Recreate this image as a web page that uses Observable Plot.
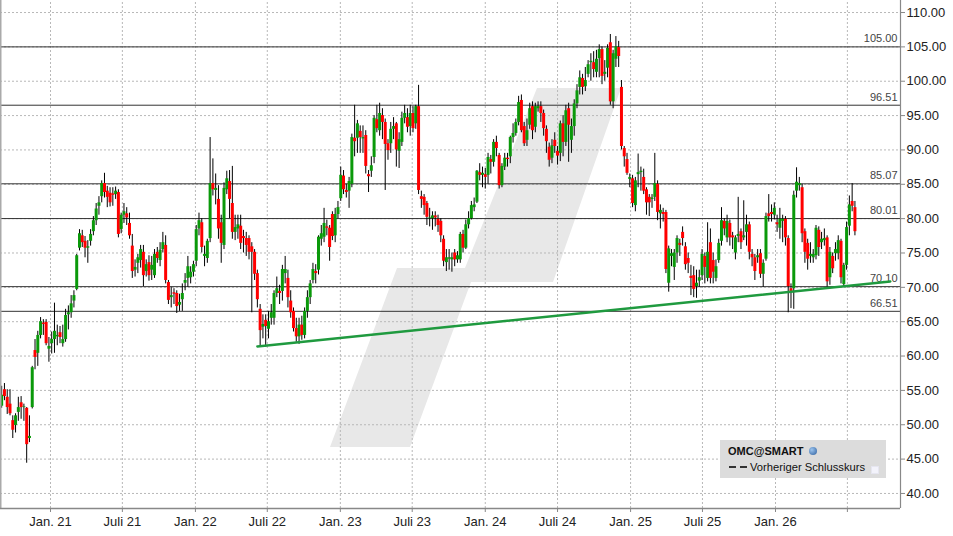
<!DOCTYPE html>
<html>
<head>
<meta charset="utf-8">
<script src="https://cdn.jsdelivr.net/npm/d3@7"></script>
<script src="https://cdn.jsdelivr.net/npm/@observablehq/plot@0.6"></script>
<style>
  html, body { margin: 0; padding: 0; background: #fff; }
  #wrap { position: relative; width: 953px; height: 536px; overflow: hidden; font-family: "Liberation Sans", Arial, sans-serif; }
  #wm { position: absolute; left: 0; top: 0; width: 953px; height: 536px; background: #e8e8e8;
        clip-path: polygon(330px 447px, 397px 268px, 465px 268px, 537px 88px, 621px 88px, 553px 282px, 471px 282px, 410px 447px); }
  #chart { position: absolute; left: 0; top: 0; }
  #legend { position: absolute; left: 720px; top: 440px; width: 166px; height: 38px; background: #dcdcdc; font-size: 11px; color: #111; }
  #legend .l1 { position: absolute; left: 8px; top: 5px; font-weight: bold; font-size: 11px; }
  #legend .globe { position: absolute; left: 89px; top: 7px; width: 8px; height: 8px; border-radius: 50%; background: radial-gradient(circle at 35% 35%, #9cc4ee, #2d5f9e); }
  #legend .dash { position: absolute; left: 9px; top: 26px; width: 19px; height: 2px; }
  #legend .l2 { position: absolute; left: 30px; top: 21px; font-size: 11.2px; }
  #legend .box { position: absolute; left: 151px; top: 26px; width: 6px; height: 6px; background: #f3f3fb; border: 1px solid #e6e6f0; }
</style>
</head>
<body>
<div id="wrap">
  <div id="wm"></div>
  <div id="chart"></div>
  <div id="legend">
    <div class="l1">OMC@SMART</div><div class="globe"></div>
    <svg class="dash" width="19" height="2"><line x1="0" y1="1" x2="19" y2="1" stroke="#333" stroke-width="2" stroke-dasharray="7,4"/></svg>
    <div class="l2">Vorheriger Schlusskurs</div><div class="box"></div>
  </div>
</div>
<script>
// Weekly candles, first week starting 2020-08-31
const firstWeek = "2020-08-31";
const opens = [52.7,55.1,54.0,53.0,50.6,49.9,51.8,53.2,52.5,52.4,48.0,52.5,60.8,60.4,63.0,64.8,64.9,61.0,61.8,62.4,62.8,63.4,61.8,62.4,66.0,66.3,68.0,69.7,75.7,77.5,76.7,75.7,76.7,78.1,79.7,81.8,83.2,85.1,84.0,83.7,83.6,83.5,83.8,78.4,80.5,80.7,79.3,76.0,72.5,73.5,73.9,75.1,72.3,73.6,72.5,71.7,75.1,73.9,75.5,76.1,70.7,68.5,69.2,69.1,67.4,68.2,70.6,71.3,71.4,72.2,73.8,78.5,79.4,74.5,74.2,77.1,85.1,84.1,82.8,79.4,76.1,84.2,85.4,82.2,78.0,78.5,78.9,77.4,77.1,77.1,75.9,75.1,72.0,66.8,64.2,65.2,63.9,65.5,65.5,69.1,69.4,69.4,72.0,71.3,68.0,66.5,64.0,62.8,64.5,63.0,66.5,68.5,71.0,72.3,72.5,77.0,77.3,78.8,78.6,80.6,77.5,80.6,82.9,86.2,84.1,84.0,85.0,91.7,91.7,92.7,91.6,92.1,86.4,86.9,88.9,94.4,92.8,95.0,94.0,90.9,90.9,93.0,93.8,89.8,91.1,94.6,94.7,93.4,95.3,93.8,96.3,83.2,83.1,82.2,80.0,80.0,80.4,79.9,79.6,77.0,73.6,74.1,74.0,75.0,74.0,74.0,77.7,75.7,79.1,80.0,81.6,82.4,86.7,86.3,86.4,86.3,88.6,88.2,91.1,89.2,84.8,87.5,88.8,89.0,91.8,92.4,94.0,97.2,93.4,91.4,93.6,96.3,93.3,96.0,96.3,95.3,93.0,90.4,88.8,91.4,89.8,89.5,93.8,91.1,96.0,91.4,93.4,96.7,99.1,100.4,99.2,101.0,102.7,102.7,101.3,103.3,104.6,101.0,101.9,105.6,97.0,103.2,104.9,99.1,90.2,88.6,85.7,85.8,81.9,86.4,86.7,86.0,84.2,83.1,82.8,83.1,85.0,80.7,80.9,80.9,70.6,74.5,72.9,75.0,76.4,78.0,75.9,74.2,71.6,71.7,70.1,70.9,71.7,74.5,71.3,76.5,73.9,71.3,73.9,76.7,79.6,77.2,79.3,77.5,75.0,77.4,78.1,77.2,78.0,79.1,74.8,74.3,74.3,74.9,71.9,74.1,80.7,80.9,80.5,79.4,78.6,79.6,79.9,77.1,69.8,69.8,84.0,84.8,84.5,78.1,76.4,74.5,74.3,74.6,78.3,76.5,76.8,77.2,71.4,74.5,74.9,74.9,76.7,70.4,73.2,78.9,82.5,81.6];
const highs = [55.6,56.0,55.1,55.1,51.3,51.6,54.0,54.1,53.0,52.5,51.3,58.5,62.4,63.6,65.6,65.3,65.3,62.7,63.5,67.7,64.5,64.3,64.5,66.8,67.3,68.8,69.5,74.8,78.4,78.3,77.4,76.8,78.4,80.3,82.2,83.2,85.5,86.6,84.7,84.5,84.5,84.6,84.2,80.8,82.2,81.6,80.8,77.7,74.0,74.8,76.1,76.1,74.0,74.6,74.5,75.5,75.8,76.5,78.0,77.5,71.0,70.0,69.8,69.5,69.0,70.5,72.0,74.5,73.0,73.8,79.0,80.8,80.0,76.0,77.0,91.8,88.7,86.5,84.8,80.5,85.2,86.9,87.0,87.6,80.5,80.5,80.5,78.3,78.0,77.5,76.5,75.5,72.5,67.5,66.0,66.0,66.5,67.5,69.5,71.5,70.3,73.2,74.5,72.5,69.5,67.0,65.5,65.5,65.8,67.0,69.5,71.0,73.5,73.3,77.5,79.0,81.5,79.8,79.0,81.0,81.5,82.5,87.5,87.0,85.0,86.0,92.3,96.5,94.3,93.5,93.5,92.8,87.0,89.0,95.0,96.5,96.8,96.0,94.5,91.5,94.0,94.7,94.0,92.5,95.5,96.5,96.0,96.5,96.3,96.5,99.4,84.0,83.5,82.5,81.5,81.0,81.0,80.5,80.0,77.5,75.5,75.5,75.0,75.5,75.2,78.0,78.3,79.8,81.0,82.5,83.0,87.0,88.0,87.5,87.3,89.5,89.2,91.5,92.0,89.5,88.0,89.5,89.5,92.0,93.8,94.5,97.8,98.0,94.0,94.5,96.8,97.0,96.8,97.0,97.0,95.8,93.5,91.0,91.5,92.5,90.5,94.2,95.0,96.5,96.8,94.5,97.3,99.5,101.5,101.0,102.0,103.0,104.0,104.3,104.5,105.3,105.0,103.0,105.3,106.8,104.5,106.5,105.8,100.1,90.5,89.5,86.5,86.3,86.0,89.4,87.5,87.2,84.5,83.5,83.5,89.5,85.5,82.0,81.5,81.2,76.0,75.5,75.5,77.5,77.0,78.8,76.5,75.0,73.2,73.0,72.5,72.5,75.5,75.0,79.4,78.5,75.0,74.0,77.0,81.6,80.0,80.5,79.8,78.0,77.5,83.1,78.5,82.6,80.5,79.5,75.5,74.8,75.5,75.5,74.0,80.8,83.5,82.0,82.3,80.5,81.5,80.5,80.3,77.5,70.5,84.0,87.4,86.0,85.0,78.5,77.0,76.5,75.5,79.0,78.8,78.0,78.5,77.5,75.8,75.0,76.5,77.5,77.0,73.5,79.5,83.3,85.1,82.5];
const lows = [52.4,53.5,51.5,51.3,48.0,48.8,50.5,50.8,50.5,44.4,47.4,52.3,58.0,58.5,62.5,63.0,61.5,59.1,60.3,60.4,61.5,61.8,61.3,62.0,63.8,65.5,67.0,69.5,75.3,75.8,74.3,73.5,76.0,77.5,79.0,80.5,82.3,83.0,81.6,81.7,81.8,82.8,77.2,77.8,79.3,79.0,77.0,71.3,71.5,72.0,72.8,70.1,71.5,70.9,71.0,71.3,73.5,73.0,75.0,70.5,67.5,67.0,67.5,66.2,66.5,66.5,69.5,70.0,70.5,71.5,73.0,77.5,75.0,73.0,73.5,76.5,83.3,82.0,77.0,73.5,75.5,83.5,80.0,77.0,76.8,77.0,75.5,75.0,74.5,74.0,66.3,71.0,67.0,61.5,62.5,61.3,62.5,64.5,64.5,68.5,67.5,68.0,70.5,67.0,65.5,63.5,62.0,61.7,62.3,62.5,65.5,67.5,70.5,70.5,71.8,76.0,76.5,77.5,73.8,76.8,76.5,80.0,82.5,83.5,83.0,81.5,84.5,89.0,89.5,89.5,89.5,86.5,83.8,86.0,88.0,92.5,92.0,91.5,84.1,88.5,89.5,91.5,87.5,87.3,90.5,93.8,92.5,92.0,92.5,93.0,83.5,81.5,80.5,79.0,78.8,78.3,78.8,78.0,76.5,73.0,72.3,72.5,72.2,73.0,73.5,73.5,75.0,75.5,78.5,79.8,81.0,82.2,85.5,84.5,84.3,85.0,86.5,87.5,89.0,84.3,84.5,87.0,87.5,88.0,91.0,92.0,93.5,92.5,90.5,90.5,93.0,91.5,92.5,95.5,94.0,92.0,89.5,87.5,88.0,89.5,87.8,88.3,89.0,90.5,88.2,89.5,92.0,96.0,98.0,98.0,98.5,100.5,100.0,100.5,100.5,100.5,99.5,100.0,100.5,96.5,96.0,102.0,102.0,90.0,87.5,86.3,84.5,81.6,81.0,84.5,84.0,83.5,80.5,80.3,81.5,82.5,79.7,78.5,79.5,72.0,69.3,73.0,71.0,73.5,74.5,76.0,72.5,72.0,68.8,68.5,68.4,70.0,71.0,70.5,70.8,70.5,70.5,70.8,73.5,76.0,77.5,76.5,76.0,75.5,74.0,76.5,75.5,76.8,76.0,74.0,73.0,71.0,73.5,71.3,70.0,73.8,79.5,79.5,79.8,78.0,77.0,76.5,76.0,66.3,66.9,66.8,83.0,84.0,76.5,73.5,72.5,73.5,73.5,74.0,74.5,75.5,76.0,70.0,70.3,72.0,73.8,74.0,70.5,70.0,72.5,77.5,81.0,77.5];
const closes = [54.3,54.1,52.5,51.6,49.2,51.3,52.5,52.5,52.6,47.1,48.3,58.3,59.8,63.0,65.0,64.6,61.8,61.4,62.4,63.6,63.0,62.7,62.4,65.9,66.3,67.6,68.8,74.6,77.8,76.5,75.7,75.9,77.7,79.7,81.4,82.3,85.1,83.8,83.1,82.3,83.4,84.0,77.7,80.5,81.0,80.1,77.5,72.3,72.9,74.3,75.5,71.7,73.3,71.7,73.2,74.8,74.2,75.4,76.5,71.0,68.1,68.8,69.0,67.2,67.8,69.1,71.0,73.0,72.2,73.3,78.4,79.7,75.8,74.8,76.7,85.1,84.2,84.4,78.5,76.4,84.4,85.8,82.8,78.0,78.7,79.1,76.4,77.1,76.1,75.1,75.1,71.9,68.2,63.7,64.6,64.3,65.0,66.3,69.1,69.8,69.1,72.6,72.6,68.5,66.3,64.0,62.8,64.5,63.0,66.5,68.5,70.5,72.6,72.0,77.3,77.8,79.3,78.6,75.8,77.4,80.6,81.6,86.3,84.2,83.8,85.4,91.8,91.2,93.8,91.8,91.8,87.6,86.1,87.7,94.6,93.1,95.3,94.0,90.8,89.9,93.0,93.4,90.0,91.5,94.6,95.3,93.3,95.3,93.1,96.3,84.1,82.8,81.9,80.2,80.1,80.4,80.1,79.0,77.5,73.8,74.3,74.3,74.3,74.0,74.6,77.7,75.7,79.1,80.0,81.9,82.0,86.9,86.3,86.6,86.0,88.9,88.2,91.1,90.2,84.8,87.6,88.8,88.6,91.8,92.4,94.0,96.9,92.8,90.9,92.8,96.0,92.8,96.3,96.3,95.3,93.1,91.2,88.5,90.6,90.5,89.1,93.8,91.1,95.7,93.6,93.4,96.7,98.6,100.5,99.1,100.1,102.4,102.9,101.7,103.2,104.6,100.7,101.3,104.8,97.0,104.0,105.0,103.6,90.5,89.0,86.6,86.0,82.2,85.5,86.7,86.9,84.0,82.3,82.3,83.0,85.1,80.9,81.2,80.6,72.6,75.6,74.9,75.0,77.1,76.1,77.1,73.3,73.5,71.3,69.7,70.6,71.4,74.8,72.9,75.1,71.3,72.2,73.0,76.4,79.7,78.5,79.6,77.2,77.2,77.2,77.7,76.5,77.5,79.1,75.1,74.3,72.3,74.6,71.9,73.5,80.3,80.3,80.6,81.5,79.1,79.9,79.9,77.2,70.1,69.4,83.4,85.3,85.1,77.8,75.1,74.1,74.8,74.8,78.6,75.8,77.0,77.1,70.8,75.1,72.7,75.5,76.8,71.4,73.2,78.7,82.0,81.8,78.1];

const levels = [105.00, 96.51, 85.07, 80.01, 70.10, 66.51];
const trendDates = ["2022-06-06", "2026-10-17"];
const trendValues = [61.39, 70.85];

const yTicks = [40, 45, 50, 55, 60, 65, 70, 75, 80, 85, 90, 95, 100, 105, 110];
const xTickDates = ["2021-01-01","2021-07-01","2022-01-01","2022-07-01","2023-01-01","2023-07-01","2024-01-01","2024-07-01","2025-01-01","2025-07-01","2026-01-01","2026-07-01"];
const xTickLabels = ["Jan. 21","Juli 21","Jan. 22","Juli 22","Jan. 23","Juli 23","Jan. 24","Juli 24","Jan. 25","Juli 25","Jan. 26",""];

const xDomain = [new Date("2020-08-28T01:40:00Z"), new Date("2026-11-11T19:00:00Z")];
const yDomain = [37.81, 111.75];

const start = new Date(firstWeek + "T00:00:00Z");
const candles = opens.map((o, i) => ({
  date: d3.utcDay.offset(start, 7 * i),
  open: o, high: highs[i], low: lows[i], close: closes[i]
}));
const trend = trendDates.map((d, i) => ({date: new Date(d + "T00:00:00Z"), value: trendValues[i]}));
const xTicks = xTickDates.map(d => new Date(d + "T00:00:00Z"));
const labelMap = new Map(xTicks.map((d, i) => [+d, xTickLabels[i]]));

const font = '"Liberation Sans", Arial, sans-serif';

const chart = Plot.plot({
  width: 953,
  height: 536,
  marginLeft: 0,
  marginRight: 53,
  marginTop: 0,
  marginBottom: 28,
  style: {background: "transparent", fontFamily: font, fontSize: "13px", color: "#222", overflow: "visible"},
  x: {type: "utc", domain: xDomain, axis: null},
  y: {domain: yDomain, axis: null},
  marks: [
    Plot.gridY(yTicks, {stroke: "#b8b8b8", strokeOpacity: 1, strokeDasharray: "2,2"}),
    Plot.gridX(xTicks, {stroke: "#b8b8b8", strokeOpacity: 1, strokeDasharray: "2,2", y1: yDomain[0], y2: yDomain[1]}),
    Plot.ruleY(levels, {stroke: "#333", strokeWidth: 1}),
    Plot.text(levels, {x: xDomain[1], y: d => d, text: d => d.toFixed(2), textAnchor: "end", dx: -3, dy: -8, fontSize: 11, fill: "#444"}),
    Plot.ruleX(candles, {x: "date", y1: "low", y2: "high", stroke: "#000", strokeWidth: 1}),
    Plot.ruleX(candles, {x: "date", y1: "open", y2: "close", strokeWidth: 3,
      stroke: d => d.close >= d.open ? "#0a990a" : "#ff0000"}),
    Plot.line(trend, {x: "date", y: "value", stroke: "#1f9a3f", strokeWidth: 2.5}),
    Plot.ruleX([xDomain[0]], {stroke: "#aaa", strokeWidth: 2}),
    Plot.ruleX([xDomain[1]], {stroke: "#888", strokeWidth: 1.2}),
    Plot.ruleY([yDomain[0]], {stroke: "#888", strokeWidth: 1.5}),
    Plot.axisY(yTicks, {anchor: "right", tickFormat: d => d.toFixed(2), tickSize: 4, tickPadding: 2, fontSize: 13, stroke: "#888", fill: "#222"}),
    Plot.axisX(xTicks, {anchor: "bottom", tickFormat: d => labelMap.get(+d) ?? "", tickSize: 4, tickPadding: 4, fontSize: 13, stroke: "#888", fill: "#222"})
  ]
});
document.getElementById("chart").appendChild(chart);
</script>
</body>
</html>
